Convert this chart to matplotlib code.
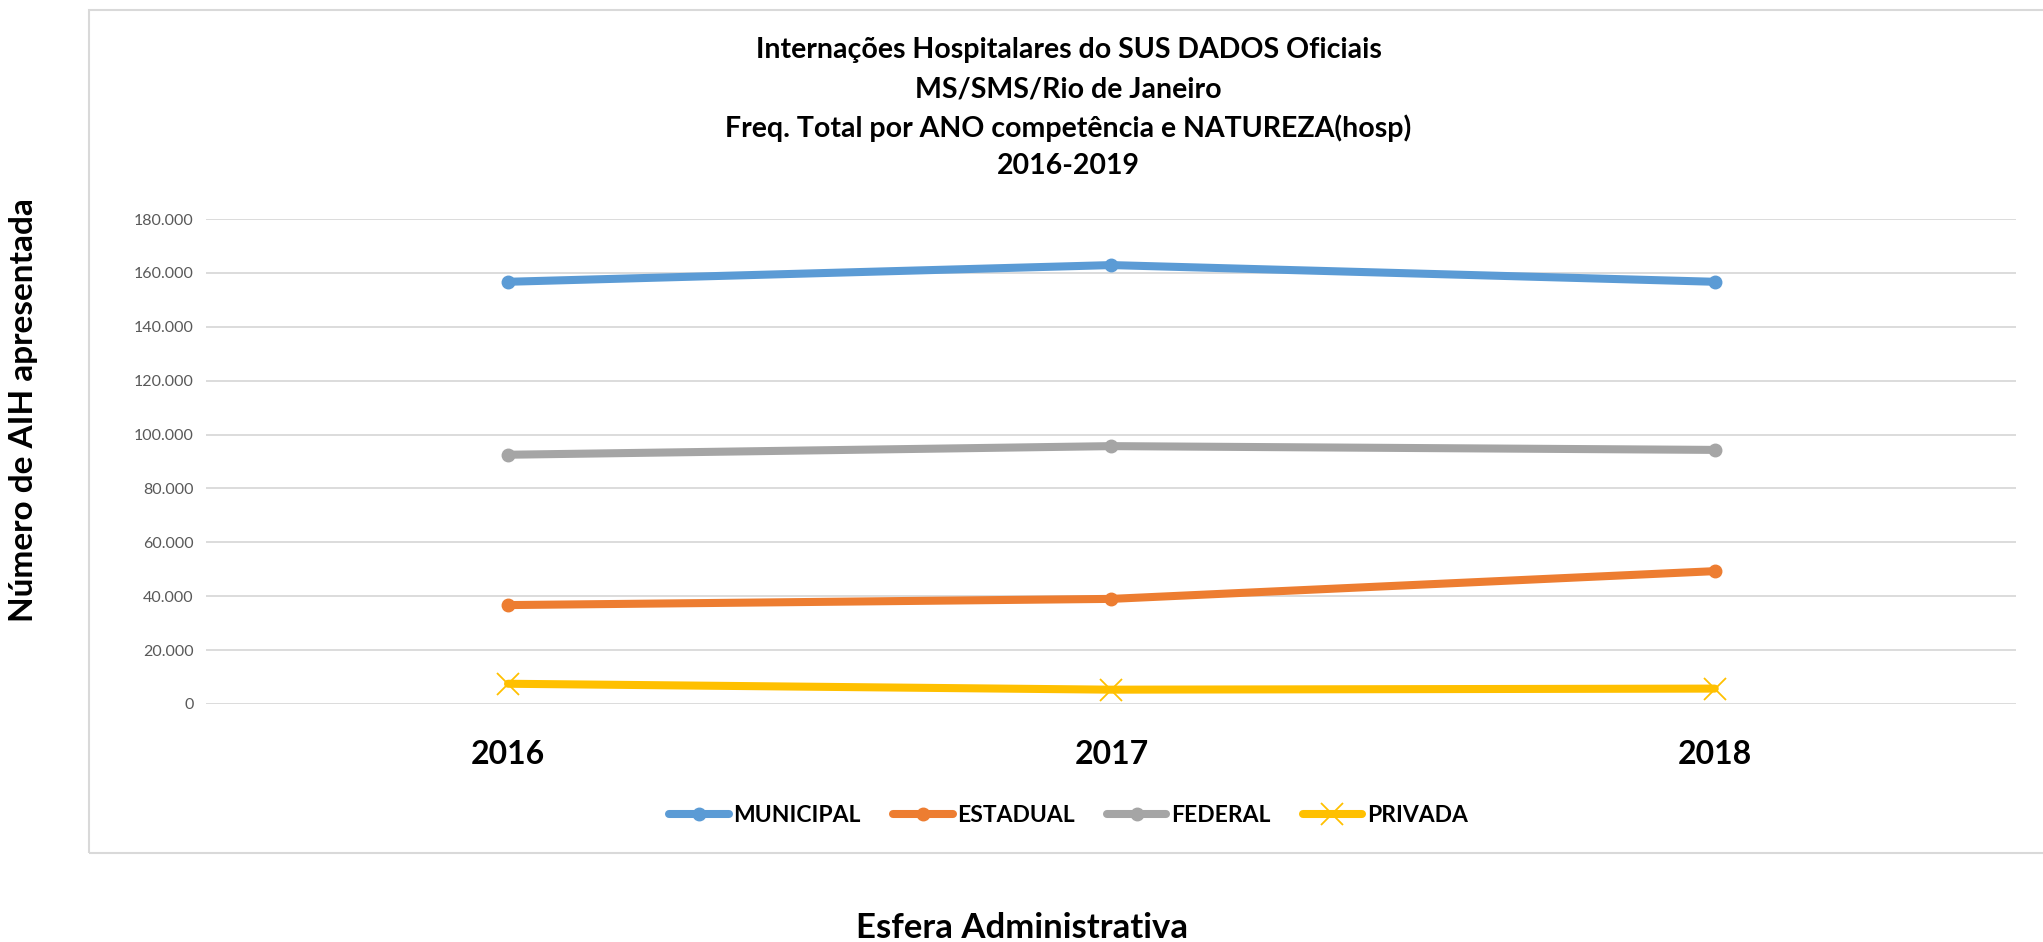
import matplotlib
matplotlib.use("Agg")
import matplotlib.pyplot as plt
from matplotlib.patches import Rectangle
from matplotlib.ticker import FuncFormatter

anos = ["2016", "2017", "2018"]
municipal = [156700, 162900, 156700]
estadual = [36700, 39000, 49300]
federal = [92500, 95700, 94300]
privada = [7500, 5300, 5700]

series = [
    ("MUNICIPAL", municipal, "#5B9BD5", "o"),
    ("ESTADUAL", estadual, "#ED7D31", "o"),
    ("FEDERAL", federal, "#A5A5A5", "o"),
    ("PRIVADA", privada, "#FFC000", "x"),
]

plt.rcParams['font.family'] = ['Lato', 'DejaVu Sans']

fig = plt.figure(figsize=(20.43, 9.42), dpi=100)
ax = fig.add_axes([0.101, 0.2527, 0.886, 0.5148])

# moldura do grafico
fig.patches.append(Rectangle((0.0436, 0.0945), 1.0, 0.895, transform=fig.transFigure,
                             fill=False, edgecolor="#d9d9d9", linewidth=1.5))

x = [i + 0.5 for i in range(len(anos))]
for nome, vals, cor, mk in series:
    if mk == "x":
        ax.plot(x, vals, color=cor, linewidth=5.8, marker="x", markersize=16,
                markeredgewidth=1.3, label=nome, solid_capstyle="round")
    else:
        ax.plot(x, vals, color=cor, linewidth=5.8, marker="o", markersize=9,
                label=nome, solid_capstyle="round")

ax.set_xlim(0, 3)
ax.set_ylim(0, 180000)
ax.set_yticks(range(0, 180001, 20000))
ax.yaxis.set_major_formatter(FuncFormatter(lambda v, p: f"{int(v):,}".replace(",", ".")))
ax.set_xticks(x)
ax.set_xticklabels(anos, fontsize=23, fontweight="bold")
ax.tick_params(axis="x", length=0, pad=26)
ax.tick_params(axis="y", length=0, pad=9, labelsize=11.5, labelcolor="#595959")
ax.grid(axis="y", color="#d9d9d9", linewidth=1.3)
ax.set_axisbelow(True)
for s in ax.spines.values():
    s.set_visible(False)

titulo = ["Internações Hospitalares do SUS DADOS Oficiais", "MS/SMS/Rio de Janeiro",
          "Freq. Total por ANO competência e NATUREZA(hosp)", "2016-2019"]
for ty, linha in zip([0.947, 0.905, 0.864, 0.824], titulo):
    fig.text(0.523, ty, linha, ha="center", va="center", fontsize=20.5, fontweight="bold")

fig.text(0.0115, 0.565, "Número de AIH apresentada", rotation=90, ha="center", va="center",
         fontsize=24, fontweight="bold")
fig.text(0.5, 0.015, "Esfera Administrativa", ha="center", va="center",
         fontsize=25, fontweight="bold")

leg = fig.legend(loc="center", bbox_to_anchor=(0.523, 0.134), ncol=4, frameon=False,
                 handlelength=2.6, columnspacing=1.4, handletextpad=0.2,
                 prop={"weight": "bold", "size": 16.5})

fig.savefig("out.png", dpi=100)
